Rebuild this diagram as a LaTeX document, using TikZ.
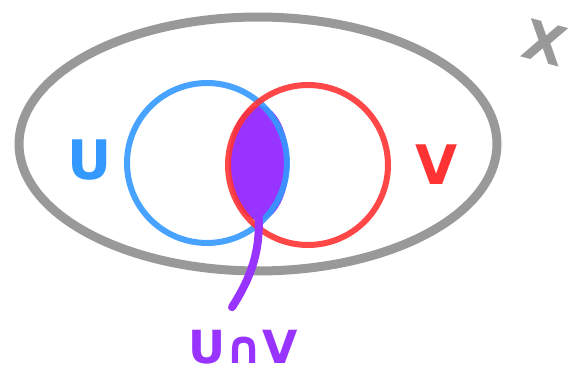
\documentclass[tikz,border=0pt]{standalone}
\usepackage{fontspec}
\setmainfont{DejaVu Sans}
\usepackage{xcolor}
\usetikzlibrary{arrows.meta, positioning, shapes.geometric}
\definecolor{setgray}{RGB}{153,153,153}
\definecolor{ucol}{RGB}{51,153,255}
\definecolor{vcol}{RGB}{255,51,51}
\definecolor{capcol}{RGB}{153,51,255}

\begin{document}
\begin{tikzpicture}[
  x=0.02cm, y=-0.02cm,
  space/.style={draw=setgray, line width=0.18cm, ellipse, inner sep=0pt,
                minimum width=9.56cm, minimum height=5.08cm},
  setcirc/.style={circle, line width=0.12cm, inner sep=0pt,
                  minimum size=3.2cm, opacity=0.9},
  lensbox/.style={ellipse, fill=capcol, inner sep=0pt,
                  minimum width=1.2cm, minimum height=2.3cm},
  lbl/.style={font=\fontsize{31}{34}\selectfont\bfseries, inner sep=0pt},
  pointer/.style={draw=capcol, line width=0.16cm, line cap=round}
]
  \useasboundingbox (0,0) rectangle (579,377);
  \node[space] (X) at (258,144) {};
  \node[lensbox] (lens) at (259,163) {};
  \node[setcirc, draw=ucol] (U) at (207,163) {};
  \node[setcirc, draw=vcol] (V) at (308,165) {};

  \node[lbl, ucol] (ulabel) at (90,160) {U};
  \node[lbl, vcol] (vlabel) at (437,165) {V};
  \node[lbl, setgray, rotate=-15] (xlabel) at (545,43) {X};
  \node[lbl, capcol, font=\fontsize{26}{30}\selectfont\bfseries]
    (caplabel) at (243,347) {U∩V};

  \draw[pointer] ([xshift=-0.08cm, yshift=-0.34cm]lens.center)
    .. controls (261,225) and (264,258)
    .. ([xshift=-0.22cm, yshift=0.45cm]caplabel.north);
\end{tikzpicture}
\end{document}
